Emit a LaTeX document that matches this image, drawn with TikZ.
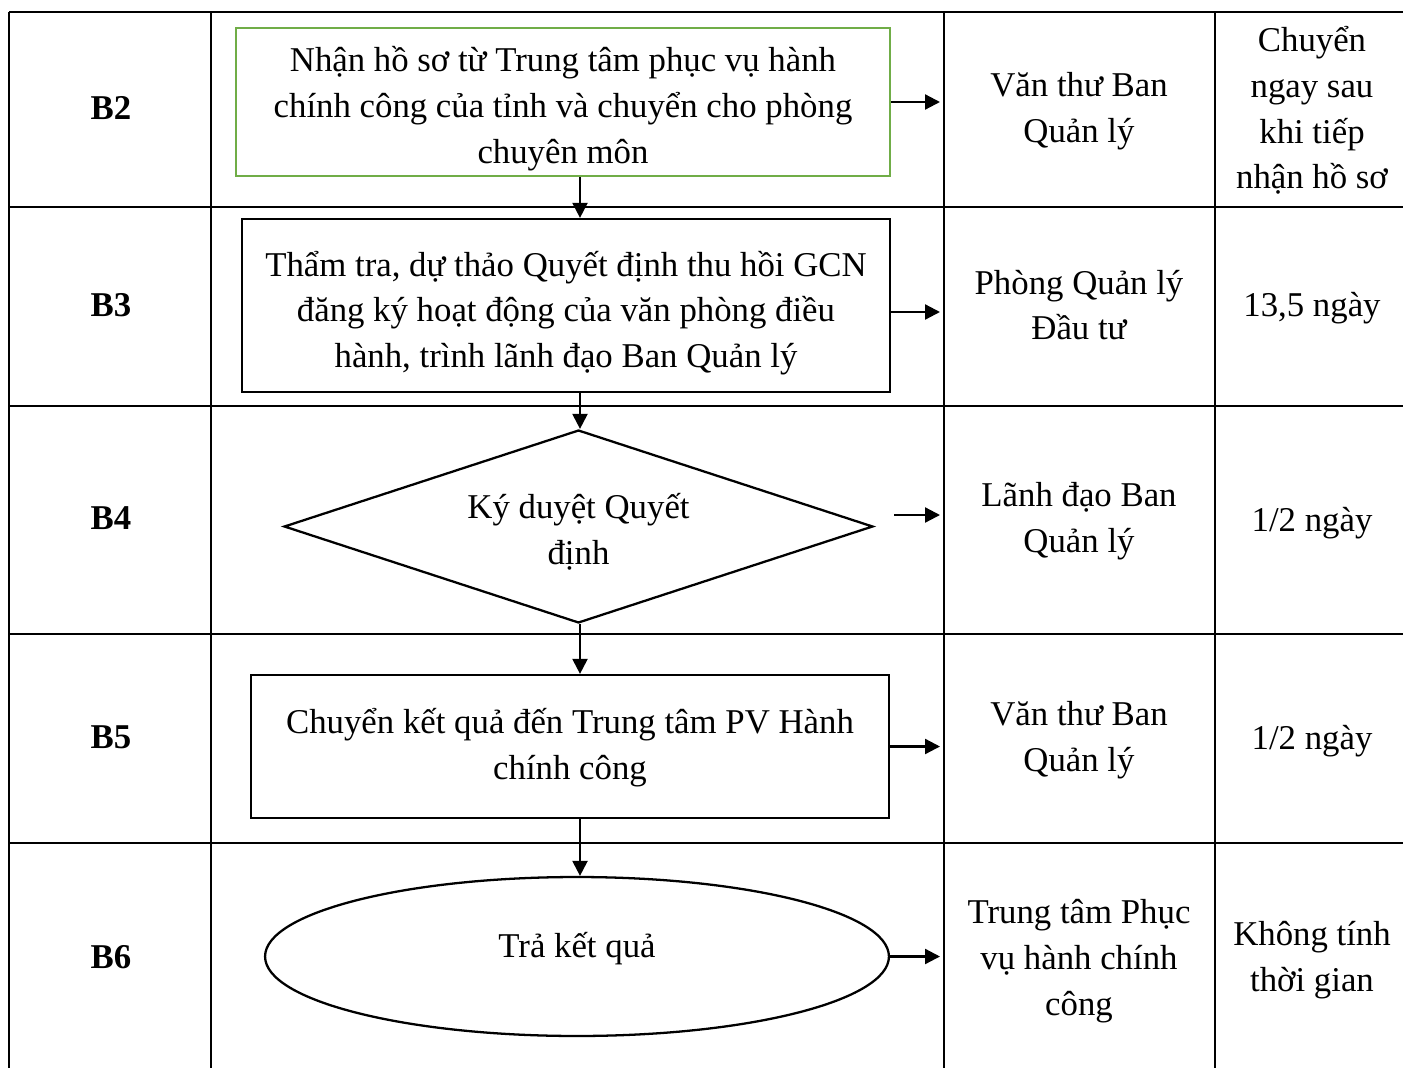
\documentclass[tikz,border=0pt]{standalone}
\usepackage{fontspec}
\setmainfont{Liberation Serif}
\usetikzlibrary{arrows.meta,shapes.geometric}
\definecolor{StepGreen}{HTML}{70AD47}
\tikzset{
  cell/.style={align=center,font=\fontsize{19.8}{26}\selectfont},
  steplabel/.style={align=center,font=\fontsize{19.8}{26}\selectfont\bfseries},
  stepbox/.style={draw,line width=1.3pt,inner sep=0pt,cell},
  flow/.style={-{Triangle[length=3mm,width=3mm]},line width=1.3pt},
  rule/.style={line width=1.2pt}
}

\begin{document}
\begin{tikzpicture}[x=0.02cm,y=-0.02cm]
  \useasboundingbox (0,0) rectangle (1403,1068);

  % table grid
  \foreach \y in {12,207,406,634,843}
    \draw[rule] (9,\y) -- (1403,\y);
  \foreach \x in {9,211,944,1215}
    \draw[rule] (\x,12) -- (\x,1068);

  % step labels
  \foreach \y/\n in {108/2,305/3,518/4,737/5,957/6}
    \node[steplabel] (step\n) at (111,\y) {B\n};

  % who and how long
  \node[cell] (who2) at (1079,111.5) {Văn thư Ban\\Quản lý};
  \node[cell] (dur2) at (1312,110.5) {Chuyển\\ngay sau\\khi tiếp\\nhận hồ sơ};
  \node[cell] (who3) at (1079,305) {Phòng Quản lý\\Đầu tư};
  \node[cell] (dur3) at (1312,308) {13,5 ngày};
  \node[cell] (who4) at (1079,521.5) {Lãnh đạo Ban\\Quản lý};
  \node[cell] (dur4) at (1312,523) {1/2 ngày};
  \node[cell] (who5) at (1079,740.5) {Văn thư Ban\\Quản lý};
  \node[cell] (dur5) at (1312,741) {1/2 ngày};
  \node[cell] (who6) at (1079,961) {Trung tâm Phục\\vụ hành chính\\công};
  \node[cell] (dur6) at (1312,960) {Không tính\\thời gian};

  % flow
  \node[stepbox,draw=StepGreen,minimum width=13.08cm,minimum height=2.96cm]
    (receive) at (563,102)
    {\rule{0pt}{21.8pt}Nhận hồ sơ từ Trung tâm phục vụ hành\\chính công của tỉnh và chuyển cho phòng\\chuyên môn};
  \node[stepbox,minimum width=12.96cm,minimum height=3.46cm]
    (review) at (566,305.5)
    {\rule{0pt}{23pt}Thẩm tra, dự thảo Quyết định thu hồi GCN\\đăng ký hoạt động của văn phòng điều\\hành, trình lãnh đạo Ban Quản lý};
  \node[stepbox,diamond,aspect=3.05,minimum width=11.78cm,minimum height=3.86cm]
    (sign) at (578.5,526.5) {\rule{0pt}{20.7pt}Ký duyệt Quyết\\định};
  \node[stepbox,minimum width=12.76cm,minimum height=2.86cm]
    (send) at (570,746.5)
    {\rule{0pt}{15.5pt}Chuyển kết quả đến Trung tâm PV Hành\\chính công};
  \node[stepbox,ellipse,text depth=13pt,minimum width=12.48cm,minimum height=3.18cm]
    (return) at (577,956.5) {Trả kết quả};

  \coordinate (spine) at (580,0);
  \coordinate (lane) at (940,0);
  \coordinate (reviewout) at ([yshift=-0.13cm]review.east);
  \coordinate (signout) at ([xshift=0.4cm,yshift=0.23cm]sign.east);

  \draw[flow] (receive.south -| spine) -- (review.north -| spine);
  \draw[flow] (review.south -| spine) -- (sign.north -| spine);
  \draw[flow] (sign.south -| spine) -- (send.north -| spine);
  \draw[flow] (send.south -| spine) -- (return.north -| spine);

  \draw[flow] (receive.east) -- (receive.east -| lane);
  \draw[flow] (reviewout) -- (reviewout -| lane);
  \draw[flow] (signout) -- (signout -| lane);
  \draw[flow] (send.east) -- (send.east -| lane);
  \draw[flow] (return.east) -- (return.east -| lane);
\end{tikzpicture}
\end{document}
